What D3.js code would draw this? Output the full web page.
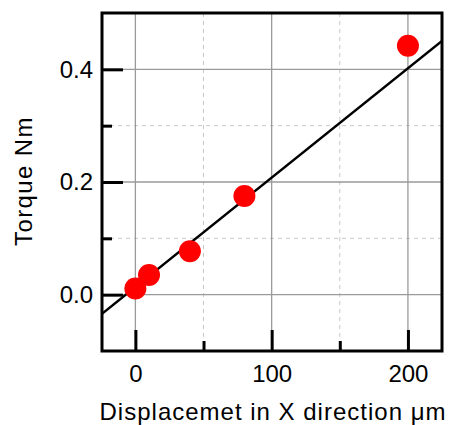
<!DOCTYPE html>
<html>
<head>
<meta charset="utf-8">
<script src="https://cdn.jsdelivr.net/npm/d3@7"></script>
<style>
  body { margin: 0; background: #fff; }
  text { font-family: "Liberation Sans", Arial, sans-serif; }
</style>
</head>
<body>
<div id="chart"></div>
<script>
// data
var dispX = [0, 10, 40, 80, 200];
var torque = [0.011, 0.035, 0.077, 0.175, 0.442];
// end points of the fitted line
var fitX = [-25, 225];
var fitY = [-0.035, 0.4505];
var xMajor = [0, 100, 200];
var xMinor = [50, 150];
var yMajor = [0.0, 0.2, 0.4];
var yMinor = [0.1, 0.3];

// set the dimensions and margins of the graph
var margin = { top: 13, right: 12, bottom: 74, left: 102 },
    width = 454 - margin.left - margin.right,
    height = 425 - margin.top - margin.bottom;

var svg = d3.select("#chart")
    .append("svg")
    .attr("width", 454)
    .attr("height", 425)
    .append("g")
    .attr("transform", "translate(" + margin.left + "," + margin.top + ")");

var x = d3.scaleLinear().domain([-24.5, 225]).range([0, width]);
var y = d3.scaleLinear().domain([-0.1, 0.5]).range([height, 0]);

svg.append("clipPath").attr("id", "clip")
    .append("rect").attr("width", width).attr("height", height);

// minor grid (dashed)
svg.selectAll(".xminor").data(xMinor).enter().append("line")
    .attr("x1", function (d) { return x(d); }).attr("x2", function (d) { return x(d); })
    .attr("y1", 0).attr("y2", height)
    .attr("stroke", "#c8c8c8").attr("stroke-width", 1).attr("stroke-dasharray", "4,4");
svg.selectAll(".yminor").data(yMinor).enter().append("line")
    .attr("y1", function (d) { return y(d); }).attr("y2", function (d) { return y(d); })
    .attr("x1", 0).attr("x2", width)
    .attr("stroke", "#c8c8c8").attr("stroke-width", 1).attr("stroke-dasharray", "4,4");

// major grid
svg.selectAll(".xmajor").data(xMajor).enter().append("line")
    .attr("x1", function (d) { return x(d); }).attr("x2", function (d) { return x(d); })
    .attr("y1", 0).attr("y2", height)
    .attr("stroke", "#9a9a9a").attr("stroke-width", 1.3);
svg.selectAll(".ymajor").data(yMajor).enter().append("line")
    .attr("y1", function (d) { return y(d); }).attr("y2", function (d) { return y(d); })
    .attr("x1", 0).attr("x2", width)
    .attr("stroke", "#9a9a9a").attr("stroke-width", 1.3);

// fitted line
svg.append("line")
    .attr("clip-path", "url(#clip)")
    .attr("x1", x(fitX[0])).attr("y1", y(fitY[0]))
    .attr("x2", x(fitX[1])).attr("y2", y(fitY[1]))
    .attr("stroke", "#000").attr("stroke-width", 2.5);

// points
svg.selectAll(".dot").data(dispX).enter().append("circle")
    .attr("cx", function (d) { return x(d); })
    .attr("cy", function (d, i) { return y(torque[i]); })
    .attr("r", 11)
    .attr("fill", "#ff0000");

// axes with inside ticks
var xAxis = svg.append("g")
    .attr("transform", "translate(0," + height + ")")
    .call(d3.axisBottom(x).tickValues(xMajor).tickSize(-21).tickPadding(14).tickFormat(d3.format("d")));
svg.append("g")
    .attr("transform", "translate(0," + height + ")")
    .call(d3.axisBottom(x).tickValues(xMinor).tickSize(-10).tickFormat(""));
var yAxis = svg.append("g")
    .call(d3.axisLeft(y).tickValues(yMajor).tickSize(-21).tickPadding(9).tickFormat(d3.format(".1f")));
svg.append("g")
    .call(d3.axisLeft(y).tickValues(yMinor).tickSize(-10).tickFormat(""));

svg.selectAll(".domain").remove();
svg.selectAll(".tick line").attr("stroke", "#000").attr("stroke-width", 3);
svg.selectAll(".tick text").attr("font-size", 24).attr("fill", "#000")
    .style("font-family", "'Liberation Sans', Arial, sans-serif");

// frame
svg.append("rect")
    .attr("width", width).attr("height", height)
    .attr("fill", "none").attr("stroke", "#000").attr("stroke-width", 3);

// axis titles
svg.append("text")
    .attr("x", 273 - margin.left)
    .attr("y", 420 - margin.top)
    .attr("text-anchor", "middle")
    .attr("font-size", 24)
    .attr("letter-spacing", 1)
    .text("Displacemet in X direction μm");

svg.append("text")
    .attr("transform", "translate(" + (32 - margin.left) + "," + (181 - margin.top) + ") rotate(-90)")
    .attr("text-anchor", "middle")
    .attr("font-size", 24)
    .attr("letter-spacing", 1.4)
    .text("Torque Nm");
</script>
</body>
</html>
